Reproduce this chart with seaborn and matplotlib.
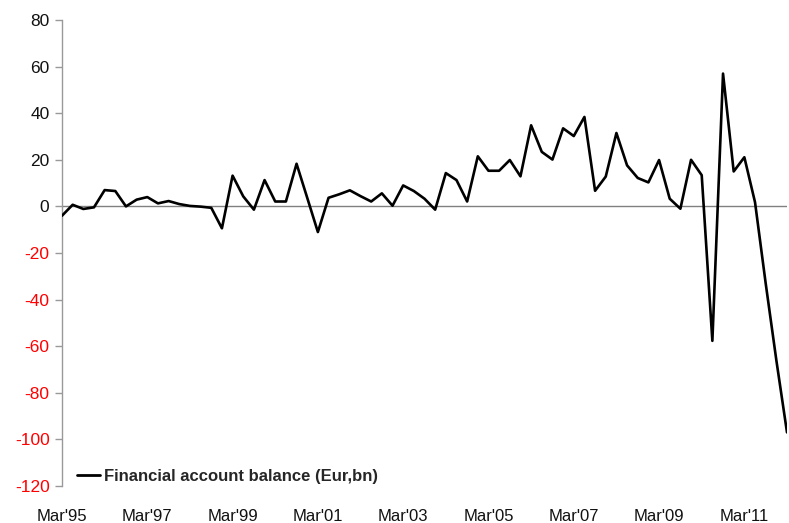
import matplotlib
matplotlib.use("Agg")
import matplotlib.pyplot as plt
import seaborn as sns
import pandas as pd

# Quarterly financial account balance, Mar'95 .. Mar'12 (EUR bn)
balance = [
    -4.0, 0.7, -1.1, -0.4, 7.0, 6.6, 0.0, 2.9, 4.0, 1.3,
    2.3, 1.0, 0.2, -0.1, -0.6, -9.4, 13.2, 4.3, -1.4, 11.3,
    2.1, 2.1, 18.3, 3.7, -11.0, 3.7, 5.2, 6.9, 4.4, 2.1,
    5.6, 0.3, 9.0, 6.6, 3.3, -1.4, 14.3, 11.3, 2.1, 21.5,
    15.3, 15.3, 19.9, 12.9, 34.8, 23.4, 20.1, 33.5, 30.2, 38.4,
    6.7, 12.8, 31.5, 17.6, 12.2, 10.3, 19.9, 3.3, -1.0, 20.0,
    13.4, -57.7, 57.0, 15.0, 21.1, 1.8, -33.0, -66.0, -97.0,
]
quarter = list(range(len(balance)))
tick_quarters = [0, 8, 16, 24, 32, 40, 48, 56, 64]
tick_labels = ["Mar'95", "Mar'97", "Mar'99", "Mar'01", "Mar'03",
               "Mar'05", "Mar'07", "Mar'09", "Mar'11"]
y_ticks = [80, 60, 40, 20, 0, -20, -40, -60, -80, -100, -120]
series_name = "Financial account balance (Eur,bn)"

sns.set_style("white")
plt.rcParams["font.family"] = ["Liberation Sans", "DejaVu Sans"]

df = pd.DataFrame({"quarter": quarter, "balance": balance, "series": series_name})

fig = plt.figure(figsize=(7.89, 5.23), dpi=100)
ax = fig.add_axes([62 / 789, 1 - 486 / 523, (787 - 62) / 789, (486 - 20) / 523])

ax.axhline(0, color="#808080", lw=1.0, zorder=1)
sns.lineplot(data=df, x="quarter", y="balance", hue="series",
             palette=["black"], lw=1.9, ax=ax, zorder=3)

ax.set_xlim(0, len(balance) - 1)
ax.set_ylim(-120, 80)
ax.set_yticks(y_ticks)
ax.set_yticklabels([str(v) for v in y_ticks])
ax.set_xticks(tick_quarters)
ax.set_xticklabels(tick_labels)
ax.set_xlabel("")
ax.set_ylabel("")

for lbl, v in zip(ax.get_yticklabels(), y_ticks):
    lbl.set_color("red" if v < 0 else "#111111")
    lbl.set_fontsize(12.5)
for lbl in ax.get_xticklabels():
    lbl.set_fontsize(12)
    lbl.set_color("#111111")

ax.tick_params(axis="y", which="both", left=True, length=5, width=1,
               color="#999999", direction="out", pad=4)
ax.tick_params(axis="x", which="both", bottom=False, pad=13)

for side in ["top", "right", "bottom"]:
    ax.spines[side].set_visible(False)
ax.spines["left"].set_color("#999999")
ax.spines["left"].set_linewidth(1.0)

leg = ax.legend(loc="lower left", bbox_to_anchor=(0.005, -0.02), frameon=False,
                handlelength=1.35, handletextpad=0.25, borderaxespad=0.3,
                prop={"weight": "bold", "size": 12})
for h in leg.get_lines():
    h.set_linewidth(2.0)

fig.savefig("out.png", dpi=100)
